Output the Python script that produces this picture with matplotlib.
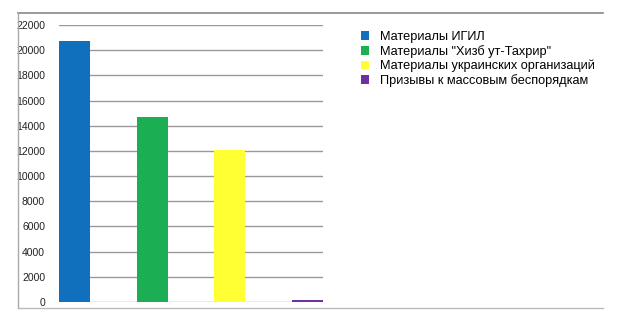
import matplotlib
matplotlib.use("Agg")
import matplotlib.pyplot as plt
from matplotlib.patches import Patch
from matplotlib.lines import Line2D

# Данные диаграммы
categories = [
    "Материалы ИГИЛ",
    "Материалы \"Хизб ут-Тахрир\"",
    "Материалы украинских организаций",
    "Призывы к массовым беспорядкам",
]
values = [20700, 14700, 12100, 150]
colors = ["#1170be", "#1bae52", "#ffff33", "#7030a0"]
y_ticks = list(range(0, 22001, 2000))

plt.rcParams["font.family"] = ["Liberation Sans", "DejaVu Sans"]

fig = plt.figure(figsize=(6.2, 3.26), dpi=100)
W, H = 620, 326

# рамка вокруг картинки (верх, лево, низ)
fig.add_artist(Line2D([18 / W, 603 / W], [1 - 13 / H, 1 - 13 / H], color="#888888", lw=1.2))
fig.add_artist(Line2D([18 / W, 18 / W], [1 - 13 / H, 1 - 308 / H], color="#aaaaaa", lw=1.0))
fig.add_artist(Line2D([18 / W, 603 / W], [1 - 308 / H, 1 - 308 / H], color="#bbbbbb", lw=1.0))

ax = fig.add_axes([59 / W, 1 - 302 / H, (323 - 59) / W, (302 - 25) / H])
x = list(range(len(values)))
ax.bar(x, values, width=0.4, color=colors, zorder=3)
ax.set_xlim(-0.2, 3.2)
ax.set_ylim(0, 22000)
ax.set_yticks(y_ticks)
ax.set_yticklabels([str(t) for t in y_ticks], fontsize=7.5, color="#222222")
ax.set_xticks([])
ax.tick_params(axis="y", length=0, pad=10)
for s in ax.spines.values():
    s.set_visible(False)
for t in y_ticks:
    ax.axhline(t, color="#999999", lw=1.0, zorder=1)

handles = [Patch(facecolor=c, edgecolor="none") for c in colors]
fig.legend(handles, categories, loc="upper left",
           bbox_to_anchor=(356 / W, 1 - 26 / H), frameon=False,
           fontsize=9.2, handlelength=0.65, handleheight=0.65,
           handletextpad=0.8, labelspacing=0.15, borderaxespad=0)

fig.savefig("out.png", dpi=100)
